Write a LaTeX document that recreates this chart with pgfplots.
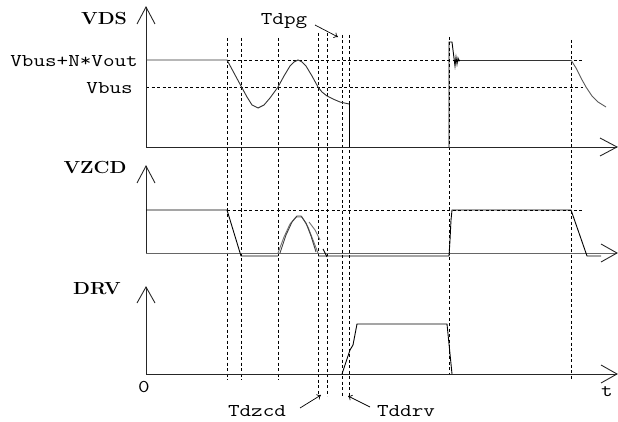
\documentclass[border=0pt]{standalone}
\usepackage{pgfplots}
\pgfplotsset{compat=1.18}
\usetikzlibrary{arrows.meta}
\usepackage{graphicx}
\usepackage{fontspec}
\newcommand{\tx}[1]{\scalebox{1.25}[1]{\ttfamily\fontsize{18}{20}\selectfont #1}}
\newcommand{\bl}[1]{\scalebox{1.12}[1]{\rmfamily\bfseries\fontsize{17.5}{19}\selectfont #1}}
\begin{document}
\begin{tikzpicture}
\begin{axis}[width=618pt,height=422pt,scale only axis,
  xmin=0,xmax=618,ymin=0,ymax=422,y dir=reverse,hide axis,clip=false]
\addplot[draw=none,forget plot] coordinates {(0,0) (618,422)};
% dashed guide lines
\pgfplotsset{guide/.style={black,line width=0.8pt,dash pattern=on 3pt off 2.5pt}}
\addplot[guide] coordinates {(227,60) (583,60)};
\addplot[guide] coordinates {(146,87) (583,87)};
\addplot[guide] coordinates {(227,210) (583,210)};
\addplot[guide] coordinates {(227,38) (227,380)};
\addplot[guide] coordinates {(241,38) (241,380)};
\addplot[guide] coordinates {(278,38) (278,380)};
\addplot[guide] coordinates {(318,33) (318,396)};
\addplot[guide] coordinates {(327,33) (327,396)};
\addplot[guide] coordinates {(342,35) (342,396)};
\addplot[guide] coordinates {(349,35) (349,396)};
\addplot[guide] coordinates {(449,37) (449,374)};
\addplot[guide] coordinates {(571,40) (571,380)};
% axes
\pgfplotsset{ax/.style={black!85,line width=0.9pt}}
\addplot[ax] coordinates {(146,147) (146,7)};
\addplot[ax] coordinates {(137,24) (146,7) (155,24)};
\addplot[ax] coordinates {(146,147) (617,147)};
\addplot[ax] coordinates {(600,138) (617,147) (600,156)};
\addplot[ax] coordinates {(146,253) (146,166)};
\addplot[ax] coordinates {(137,183) (146,166) (155,183)};
\addplot[black!60,line width=0.9pt] coordinates {(146,253) (617,253)};
\addplot[ax] coordinates {(601,244) (617,253) (601,262)};
\addplot[ax] coordinates {(146,374) (146,287)};
\addplot[ax] coordinates {(137,303) (146,287) (155,303)};
\addplot[ax] coordinates {(146,374) (617,374)};
\addplot[ax] coordinates {(601,365) (617,374) (601,383)};
% VDS waveform
\pgfplotsset{wave/.style={black!80,line width=0.9pt}}
\addplot[wave] coordinates {(146,60) (227,60) (234,73) (241,86) (247,97) (252,105) (258,108) (264,105) (270,98) (278,87) (284,76) (290,66) (294,62) (298,60) (302,62) (306,66) (312,76) (318,87) (322,92) (327,96) (333,99) (340,102) (349,104)};
\addplot[black,line width=0.9pt] coordinates {(349,104) (349,147)};
\addplot[black,line width=0.9pt] coordinates {(449,147) (449,42) (452,42) (454,58) (455,66) (456,57) (457,64) (458,58) (459,61) (460,60)};
\addplot[wave] coordinates {(460,60) (571,60)};
\addplot[black!65,line width=0.9pt] coordinates {(571,60) (576,68) (581,78) (586,87) (592,96) (598,102) (606,107)};
% VZCD waveform
\addplot[black,line width=0.9pt] coordinates {(146,210) (227,210) (241,256) (278,256)};
\addplot[black!55,line width=0.9pt] coordinates {(278,253) (284,237) (290,224) (296,217) (302,217) (308,227) (313,240) (318,253)};
\addplot[black!75,line width=0.9pt] coordinates {(280,253) (286,235) (292,222) (297,216) (301,216) (306,223) (311,236) (316,252)};
\addplot[black!55,line width=0.9pt] coordinates {(309,222) (315,230) (320,240)};
\addplot[black,line width=0.9pt] coordinates {(323,249) (327,257)};
\addplot[black,line width=0.9pt] coordinates {(318,256) (449,256) (450,240) (451,220) (452,210) (571,210) (587,256) (601,256)};
% DRV waveform
\addplot[black,line width=0.9pt] coordinates {(342,374) (350,350) (353,345) (357,324) (447,324) (452,374)};
% annotation arrows
\addplot[black,line width=0.7pt,-{To[length=4pt,width=6pt]}] coordinates {(315,25) (338,37)};
\addplot[black,line width=0.7pt,-{To[length=4pt,width=6pt]}] coordinates {(300,408) (321,395)};
\addplot[black,line width=0.7pt,-{To[length=4pt,width=6pt]}] coordinates {(370,407) (348,396)};
% labels
\node at (axis cs:104,19) {\bl{VDS}};
\node at (axis cs:95,167) {\bl{VZCD}};
\node at (axis cs:97,289) {\bl{DRV}};
\node[anchor=east,inner sep=0pt,text=black] at (axis cs:138,61) {\tx{Vbus+N*Vout}};
\node[anchor=east,inner sep=0pt,text=black] at (axis cs:133,88) {\tx{Vbus}};
\node[text=black] at (axis cs:284,21) {\tx{Tdpg}};
\node[text=black] at (axis cs:257,411) {\tx{Tdzcd}};
\node[text=black] at (axis cs:406,411) {\tx{Tddrv}};
\node[text=black] at (axis cs:144,387) {\tx{0}};
\node[text=black] at (axis cs:607,392) {\tx{t}};
\end{axis}
\end{tikzpicture}
\end{document}
